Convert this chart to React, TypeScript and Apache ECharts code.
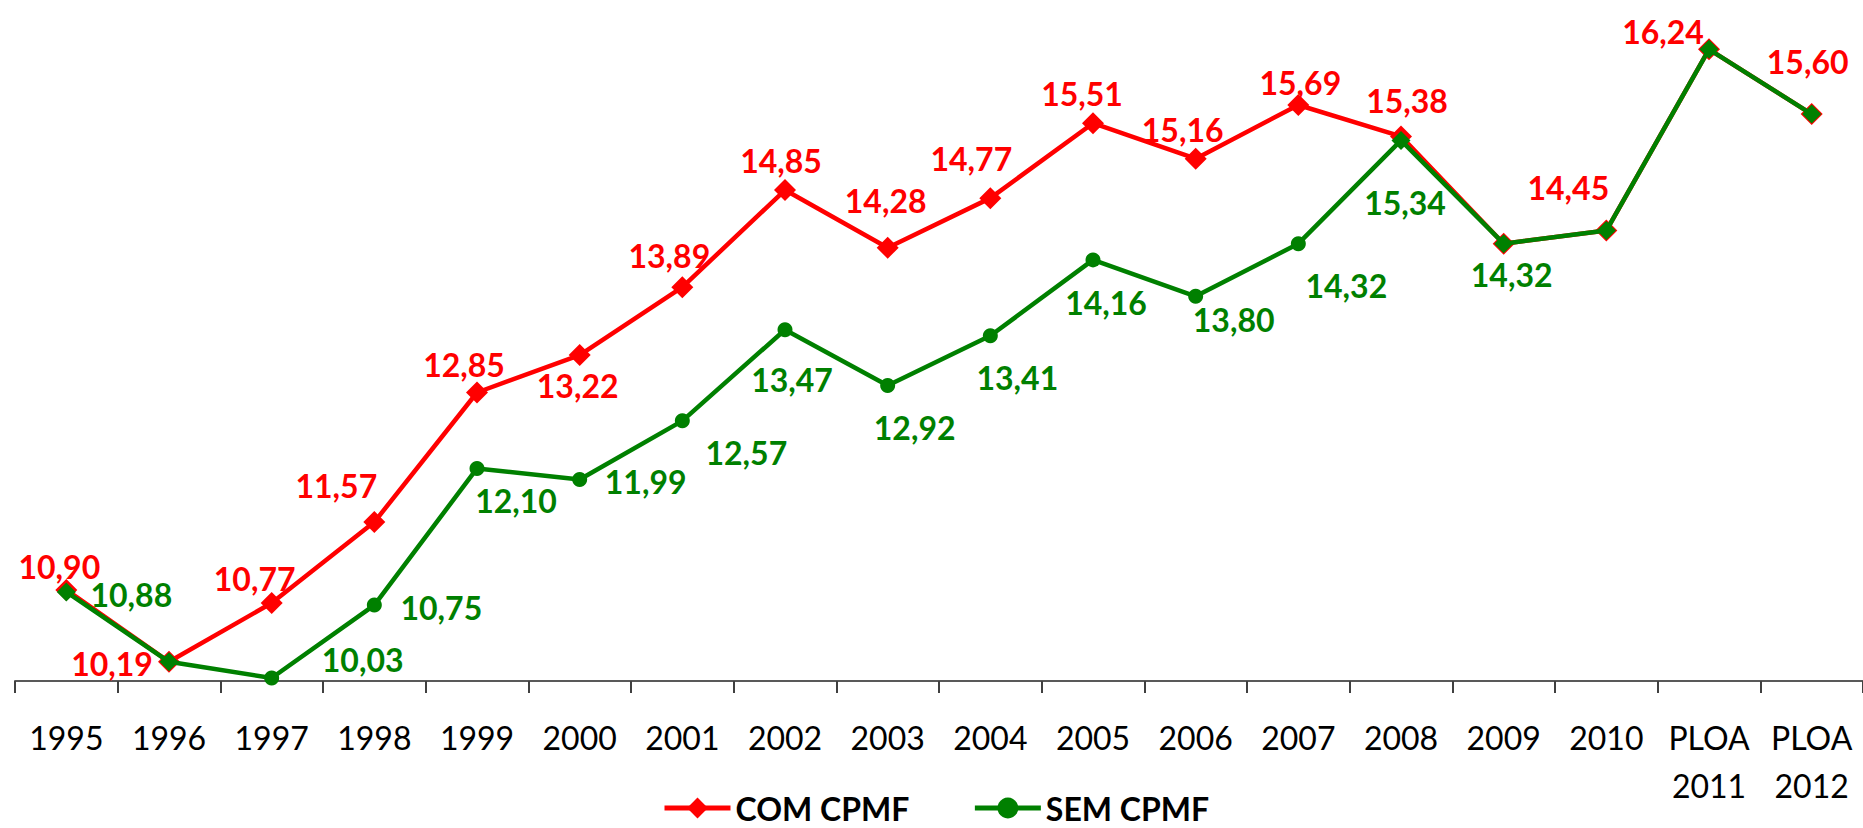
import React, { useEffect, useRef } from "react";
import * as echarts from "echarts";

const categories = [
  "1995", "1996", "1997", "1998", "1999", "2000", "2001", "2002", "2003",
  "2004", "2005", "2006", "2007", "2008", "2009", "2010", "PLOA\n2011", "PLOA\n2012",
];
const comCpmf = [
  10.9, 10.19, 10.77, 11.57, 12.85, 13.22, 13.89, 14.85, 14.28,
  14.77, 15.51, 15.16, 15.69, 15.38, 14.32, 14.45, 16.24, 15.6,
];
const semCpmf = [
  10.88, 10.19, 10.03, 10.75, 12.1, 11.99, 12.57, 13.47, 12.92,
  13.41, 14.16, 13.8, 14.32, 15.34, 14.32, 14.45, 16.24, 15.6,
];

// label placement (styling), null = label not shown
const comLabelOffsets: (number[] | null)[] = [
  [-7, -23], [-57, 2], [-17, -25], [-38, -37], [-13, -28], [-2, 30], [-13, -32], [-4, -30], [-2, -47],
  [-19, -40], [-11, -30], [-13, -29], [2, -22], [6, -36], null, [-38, -43], [-46, -18], [-4, -53],
];
const semLabelOffsets: (number[] | null)[] = [
  [65, 3], null, [91, -18], [67, 2], [39, 32], [66, 2], [64, 32], [7, 50], [27, 42],
  [27, 42], [13, 43], [38, 23], [48, 42], [4, 62], [8, 31], null, null, null,
];
const semDiamondIdx = [0, 1, 13, 14, 15, 16, 17];

const RED = "#FF0000";
const GREEN = "#008000";
const FONT = "Lato";

const fmt = (v: number) => v.toFixed(2).replace(".", ",");

export default function App() {
  const ref = useRef<HTMLDivElement>(null);
  useEffect(() => {
    document.body.style.margin = "0";
    if (!ref.current) return;
    const chart = echarts.init(ref.current, null, { renderer: "svg" });

    const comData = comCpmf.map((v, i) => {
      const off = comLabelOffsets[i];
      return {
        value: v,
        label: off ? { show: true, offset: off } : { show: false },
      };
    });
    const semData = semCpmf.map((v, i) => {
      const off = semLabelOffsets[i];
      const diamond = semDiamondIdx.indexOf(i) >= 0;
      return {
        value: v,
        symbol: diamond ? "diamond" : "circle",
        symbolSize: diamond ? 19 : 15,
        label: off ? { show: true, offset: off } : { show: false },
      };
    });

    const labelBase = {
      show: true,
      position: "inside" as const,
      fontFamily: FONT,
      fontWeight: "bold" as const,
      fontSize: 32,
      formatter: (p: any) => fmt(p.value),
    };

    chart.setOption({
      animation: false,
      backgroundColor: "#ffffff",
      grid: { left: 15, right: -6, top: 23, bottom: 147, containLabel: false },
      xAxis: {
        type: "category",
        data: categories,
        boundaryGap: true,
        axisLine: { show: true, lineStyle: { color: "#595959", width: 2 } },
        axisTick: { show: true, length: 12, lineStyle: { color: "#404040", width: 2 } },
        axisLabel: {
          interval: 0,
          margin: 32,
          fontFamily: FONT,
          fontSize: 32,
          lineHeight: 48,
          color: "#000000",
        },
        splitLine: { show: false },
      },
      yAxis: {
        type: "value",
        min: 10,
        max: 16.5,
        show: false,
        splitLine: { show: false },
      },
      legend: {
        top: 792,
        left: 662,
        padding: 0,
        itemWidth: 66,
        itemHeight: 26,
        itemGap: 63,
        lineStyle: { width: 5 },
        textStyle: {
          fontFamily: FONT,
          fontWeight: "bold",
          fontSize: 32,
          lineHeight: 30,
          color: "#000000",
        },
        data: ["COM CPMF", "SEM CPMF"],
      },
      series: [
        {
          name: "COM CPMF",
          type: "line",
          data: comData,
          symbol: "diamond",
          symbolSize: 22,
          itemStyle: { color: RED },
          lineStyle: { color: RED, width: 4.5 },
          label: { ...labelBase, color: RED },
          z: 2,
        },
        {
          name: "SEM CPMF",
          type: "line",
          data: semData,
          symbol: "circle",
          symbolSize: 15,
          itemStyle: { color: GREEN },
          lineStyle: { color: GREEN, width: 4.5 },
          label: { ...labelBase, color: GREEN },
          z: 3,
        },
      ],
    });
    return () => chart.dispose();
  }, []);
  return <div ref={ref} style={{ width: 1863, height: 828 }} />;
}
